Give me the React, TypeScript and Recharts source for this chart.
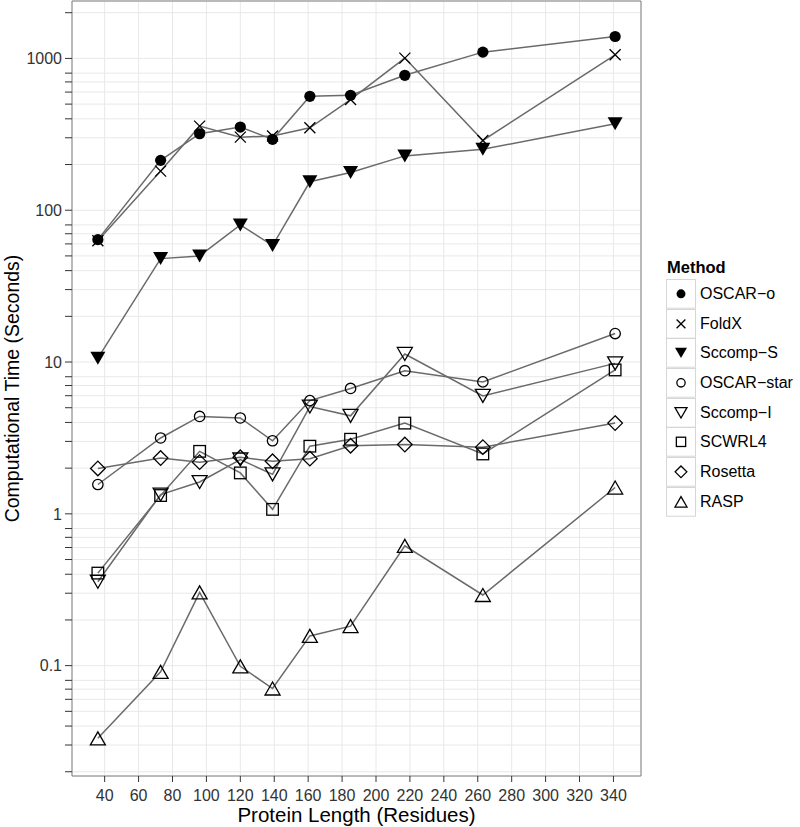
import React from "react";
import { LineChart, Line, XAxis, YAxis, CartesianGrid, ReferenceArea, Label } from "recharts";

document.body.style.margin = "0";

// protein lengths (residues)
const lengths = [36, 73, 96, 120, 139, 161, 185, 217, 263, 341];

// computational time in seconds, one list per method
const oscarO = [64, 213, 319, 353, 293, 563, 572, 774, 1100, 1394];
const foldX = [63, 181, 358, 303, 308, 349, 536, 1005, 288, 1057];
const sccompS = [10.6, 48, 50, 80, 58.5, 154, 177, 228, 252, 371];
const oscarStar = [1.56, 3.16, 4.38, 4.28, 3.03, 5.57, 6.7, 8.77, 7.4, 15.4];
const sccompI = [0.357, 1.34, 1.62, 2.28, 1.82, 5.09, 4.42, 11.3, 5.98, 9.8];
const scwrl4 = [0.407, 1.32, 2.58, 1.86, 1.07, 2.79, 3.1, 3.96, 2.48, 8.87];
const rosetta = [1.99, 2.33, 2.19, 2.36, 2.22, 2.31, 2.81, 2.86, 2.75, 3.96];
const rasp = [0.0332, 0.091, 0.304, 0.099, 0.0707, 0.157, 0.182, 0.615, 0.292, 1.49];

const xTicks = [40, 60, 80, 100, 120, 140, 160, 180, 200, 220, 240, 260, 280, 300, 320, 340];
const yTicks = [
  0.02, 0.03, 0.04, 0.05, 0.06, 0.07, 0.08, 0.09,
  0.1, 0.2, 0.3, 0.4, 0.5, 0.6, 0.7, 0.8, 0.9,
  1, 2, 3, 4, 5, 6, 7, 8, 9,
  10, 20, 30, 40, 50, 60, 70, 80, 90,
  100, 200, 300, 400, 500, 600, 700, 800, 900,
  1000, 2000,
];
const yLabels = [0.1, 1, 10, 100, 1000];

const xDomain: [number, number] = [20.75, 356.25];
const yDomain: [number, number] = [0.01875, 2389];

type Shape = "dot" | "cross" | "downFilled" | "circle" | "down" | "square" | "diamond" | "up";

const methods: { name: string; key: string; values: number[]; shape: Shape }[] = [
  { name: "OSCAR\u2212o", key: "oscarO", values: oscarO, shape: "dot" },
  { name: "FoldX", key: "foldX", values: foldX, shape: "cross" },
  { name: "Sccomp\u2212S", key: "sccompS", values: sccompS, shape: "downFilled" },
  { name: "OSCAR\u2212star", key: "oscarStar", values: oscarStar, shape: "circle" },
  { name: "Sccomp\u2212I", key: "sccompI", values: sccompI, shape: "down" },
  { name: "SCWRL4", key: "scwrl4", values: scwrl4, shape: "square" },
  { name: "Rosetta", key: "rosetta", values: rosetta, shape: "diamond" },
  { name: "RASP", key: "rasp", values: rasp, shape: "up" },
];

const rows = lengths.map((x, i) => {
  const r: Record<string, number> = { x };
  methods.forEach((m) => { r[m.key] = m.values[i]; });
  return r;
});

const FONT = "'Liberation Sans', Arial, Helvetica, sans-serif";

function Marker({ shape, cx, cy, s = 1 }: { shape: Shape; cx: number; cy: number; s?: number }) {
  const sw = 1.3;
  const w = 7.5 * s, h = 6.5 * s;
  switch (shape) {
    case "dot":
      return <circle cx={cx} cy={cy} r={5.6 * s} fill="#000" />;
    case "circle":
      return <circle cx={cx} cy={cy} r={5.2 * s} fill="none" stroke="#000" strokeWidth={sw} />;
    case "cross": {
      const d = 5.5 * s;
      return <path d={`M${cx - d},${cy - d}L${cx + d},${cy + d}M${cx - d},${cy + d}L${cx + d},${cy - d}`} stroke="#000" strokeWidth={sw} />;
    }
    case "downFilled":
      return <polygon points={`${cx - w},${cy - h} ${cx + w},${cy - h} ${cx},${cy + h}`} fill="#000" />;
    case "down":
      return <polygon points={`${cx - w},${cy - h} ${cx + w},${cy - h} ${cx},${cy + h}`} fill="none" stroke="#000" strokeWidth={sw} />;
    case "up":
      return <polygon points={`${cx - w},${cy + h} ${cx + w},${cy + h} ${cx},${cy - h}`} fill="none" stroke="#000" strokeWidth={sw} />;
    case "square": {
      const a = 5.8 * s;
      return <rect x={cx - a} y={cy - a} width={2 * a} height={2 * a} fill="none" stroke="#000" strokeWidth={sw} />;
    }
    case "diamond": {
      const d = 7.3 * s;
      return <polygon points={`${cx},${cy - d} ${cx + d},${cy} ${cx},${cy + d} ${cx - d},${cy}`} fill="none" stroke="#000" strokeWidth={sw} />;
    }
  }
  return null;
}

function MethodLegend() {
  return (
    <div style={{ position: "absolute", left: 666, top: 256, fontFamily: FONT, color: "#000" }}>
      <div style={{ fontSize: 16.5, fontWeight: "bold", lineHeight: "23px", marginLeft: 1 }}>Method</div>
      {methods.map((m) => (
        <div key={m.key} style={{ display: "flex", alignItems: "center", height: 29.7 }}>
          <svg width={30} height={29.7} style={{ display: "block" }}>
            <rect x={0.5} y={0.5} width={29} height={28.7} fill="#fff" stroke="#d6d6d6" />
            <Marker shape={m.shape} cx={15} cy={14.85} s={0.8} />
          </svg>
          <span style={{ fontSize: 16, marginLeft: 4, whiteSpace: "nowrap" }}>{m.name}</span>
        </div>
      ))}
    </div>
  );
}

export default function App() {
  return (
    <div style={{ position: "relative", width: 800, height: 827, background: "#fff" }}>
      <LineChart width={800} height={827} data={rows} margin={{ top: 1, right: 159, bottom: 0, left: 0 }}>
        <CartesianGrid stroke="#e8e8e8" strokeWidth={1} />
        <XAxis
          dataKey="x" type="number" domain={xDomain} ticks={xTicks} allowDataOverflow
          height={51} axisLine={false} tickSize={6} tickMargin={8}
          tickLine={{ stroke: "#333" }}
          tick={{ fill: "#333", fontSize: 16, fontFamily: FONT }}
        >
          <Label
            content={() => (
              <text x={356.5} y={822} textAnchor="middle" fontSize={20.5} fontFamily={FONT} fill="#000">
                Protein Length (Residues)
              </text>
            )}
          />
        </XAxis>
        <YAxis
          type="number" scale="log" domain={yDomain} ticks={yTicks} allowDataOverflow
          width={72} axisLine={false} tickSize={7} tickMargin={3}
          tickLine={{ stroke: "#333" }}
          tick={{ fill: "#333", fontSize: 16, fontFamily: FONT }}
          tickFormatter={(v: number) => (yLabels.includes(v) ? String(v) : "")}
        >
          <Label
            content={() => (
              <text transform="translate(19,388.5) rotate(-90)" textAnchor="middle" fontSize={19.5} fontFamily={FONT} fill="#000">
                Computational Time (Seconds)
              </text>
            )}
          />
        </YAxis>
        <ReferenceArea x1={xDomain[0]} x2={xDomain[1]} y1={yDomain[0]} y2={yDomain[1]} fill="none" stroke="#808080" strokeWidth={1} ifOverflow="visible" />
        {methods.map((m) => (
          <Line
            key={`l-${m.key}`} dataKey={m.key} type="linear" stroke="#6a6a6a" strokeWidth={1.5}
            dot={false} activeDot={false} isAnimationActive={false}
          />
        ))}
        {methods.map((m) => (
          <Line
            key={`p-${m.key}`} dataKey={m.key} type="linear" stroke="none"
            activeDot={false} isAnimationActive={false}
            dot={(p: any) => <Marker key={`${m.key}-${p.index}`} shape={m.shape} cx={p.cx} cy={p.cy} />}
          />
        ))}
      </LineChart>
      <MethodLegend />
    </div>
  );
}
